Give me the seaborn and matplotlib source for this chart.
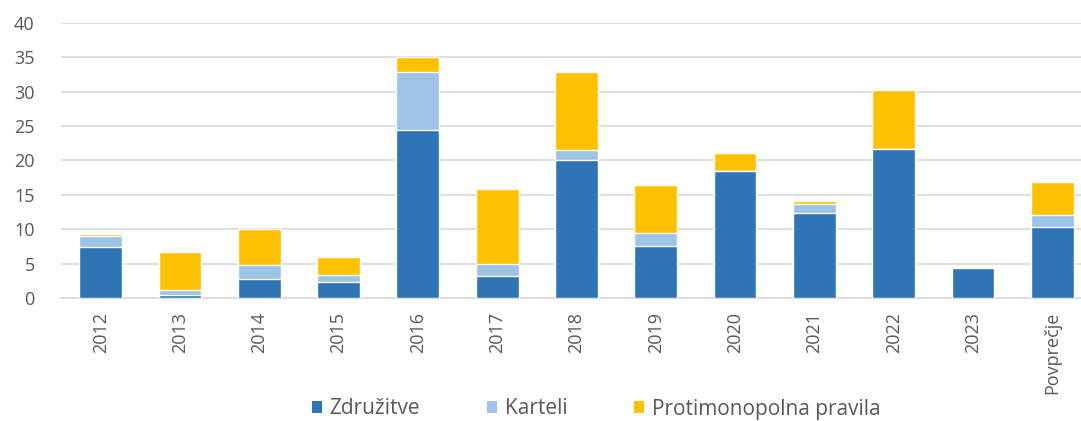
import matplotlib
matplotlib.use("Agg")
import matplotlib.pyplot as plt
from matplotlib.patches import Patch
import numpy as np
import pandas as pd
import seaborn as sns

# Values (stacked: Združitve, Karteli, Protimonopolna pravila)
categories = ['2012', '2013', '2014', '2015', '2016', '2017', '2018',
              '2019', '2020', '2021', '2022', '2023', 'Povprečje']
zdruzitve = [7.4, 0.5, 2.8, 2.3, 24.4, 3.2, 20.0, 7.5, 18.5, 12.3, 21.6, 4.4, 10.3]
karteli = [1.6, 0.6, 2.0, 1.0, 8.4, 1.7, 1.5, 2.0, 0.0, 1.4, 0.1, 0.0, 1.8]
protimonopolna = [0.25, 5.6, 5.2, 2.6, 2.2, 11.0, 11.3, 6.9, 2.6, 0.4, 8.5, 0.1, 4.7]
series_names = ['Združitve', 'Karteli', 'Protimonopolna pravila']
colors = ['#2E75B6', '#9DC3E6', '#FFC000']

sns.set_style('white')
plt.rcParams['font.family'] = ['Open Sans', 'DejaVu Sans']
text_color = '#595959'

df = pd.DataFrame({
    'Leto': categories,
    'z': zdruzitve,
    'k': karteli,
    'p': protimonopolna,
})
df['zk'] = df['z'] + df['k']
df['total'] = df['zk'] + df['p']

fig = plt.figure(figsize=(10.81, 4.21), dpi=100)
ax = fig.add_axes([61 / 1081, 1 - 298 / 421, 1020 / 1081, (298 - 22.7) / 421])

# overlapping cumulative bars -> stacked look
for col, color in zip(['total', 'zk', 'z'], colors[::-1]):
    sns.barplot(data=df, x='Leto', y=col, color=color, width=0.54,
                order=categories, saturation=1, ax=ax, zorder=3)

ax.set_ylim(0, 40)
ax.set_yticks(np.arange(0, 41, 5))
ax.set_xlim(-0.5, -0.5 + 1020 / 79.3)
ax.set_xlabel('')
ax.set_ylabel('')

ax.grid(axis='y', color='#D9D9D9', linewidth=1.2, zorder=0)
ax.set_axisbelow(True)
for s in ['top', 'right', 'left']:
    ax.spines[s].set_visible(False)
ax.spines['bottom'].set_color('#D9D9D9')
ax.spines['bottom'].set_linewidth(1.2)

ax.tick_params(axis='y', length=0, pad=19, labelsize=13, labelcolor=text_color)
ax.tick_params(axis='x', length=0, pad=10, labelsize=13, labelcolor=text_color,
               labelrotation=90)

handles = [Patch(facecolor=c, edgecolor='none', label=n)
           for c, n in zip(colors, series_names)]
fig.legend(handles=handles, loc='center', bbox_to_anchor=(596 / 1081, 12 / 421),
           ncol=3, frameon=False, fontsize=15, labelcolor=text_color,
           handlelength=0.5, handleheight=0.5, handletextpad=0.35,
           columnspacing=3.2, borderpad=0.1)

fig.savefig('out.png', dpi=100, facecolor='white')
plt.close(fig)
